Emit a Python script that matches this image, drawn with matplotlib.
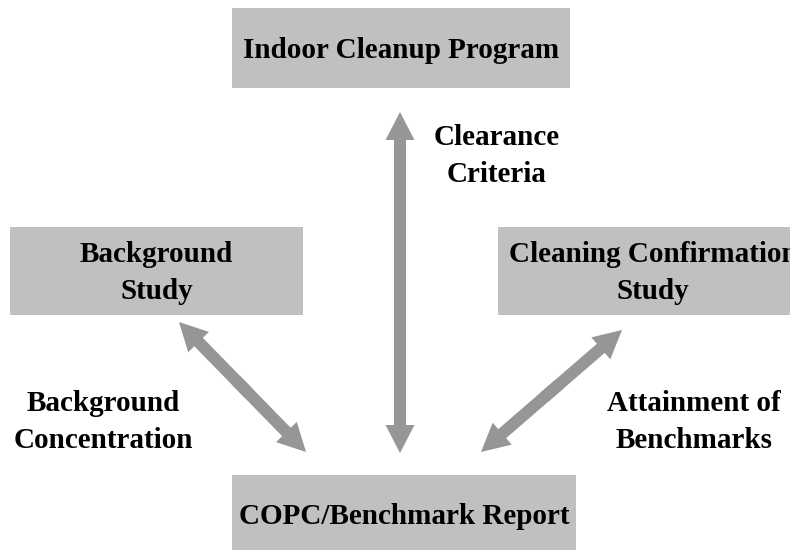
import matplotlib.pyplot as plt
from matplotlib.patches import Rectangle

# box labels and their layout (left, top, width, height in pixels)
box_labels = ["Indoor Cleanup Program", "Background\nStudy",
              "Cleaning Confirmation\nStudy", "COPC/Benchmark Report"]
box_layout = [(232, 8, 338, 80), (10, 227, 293, 88),
              (498, 227, 310, 88), (232, 475, 344, 80)]

# arrow labels and arrows (start, end in pixels)
arrow_labels = ["Clearance\nCriteria", "Background\nConcentration",
                "Attainment of\nBenchmarks"]
label_pos = [(497, 156), (103, 422), (694, 422)]
arrow_ends = [((400, 112), (400, 453)),
              ((179, 322), (306, 452)),
              ((622, 330), (481, 452))]

box_color = "#c0c0c0"
arrow_color = "#969696"

plt.rcParams['font.family'] = ['Liberation Serif', 'DejaVu Serif']

fig = plt.figure(figsize=(7.9, 5.5), dpi=100)
ax = fig.add_axes([0, 0, 1, 1])
ax.set_xlim(0, 790)
ax.set_ylim(550, 0)
ax.axis('off')

for label, (x, y, w, h) in zip(box_labels, box_layout):
    ax.add_patch(Rectangle((x, y), w, h, facecolor=box_color, edgecolor='none'))
    ax.text(x + w / 2, y + h / 2 + 2, label, ha='center', va='center',
            fontsize=21, fontweight='bold', linespacing=1.45)

# double headed arrows: two half arrows pointing outwards,
# each starting a little past the middle so they overlap
for (p1, p2) in arrow_ends:
    for (s, e) in ((p2, p1), (p1, p2)):
        sx = e[0] + (s[0] - e[0]) * 0.55
        sy = e[1] + (s[1] - e[1]) * 0.55
        ax.arrow(sx, sy, e[0] - sx, e[1] - sy, width=12, head_width=29,
                 head_length=28, length_includes_head=True,
                 facecolor=arrow_color, edgecolor='none', linewidth=0)

for label, (x, y) in zip(arrow_labels, label_pos):
    ax.text(x, y, label, ha='center', va='center', fontsize=21,
            fontweight='bold', linespacing=1.45)

fig.savefig("out.png", dpi=100)
